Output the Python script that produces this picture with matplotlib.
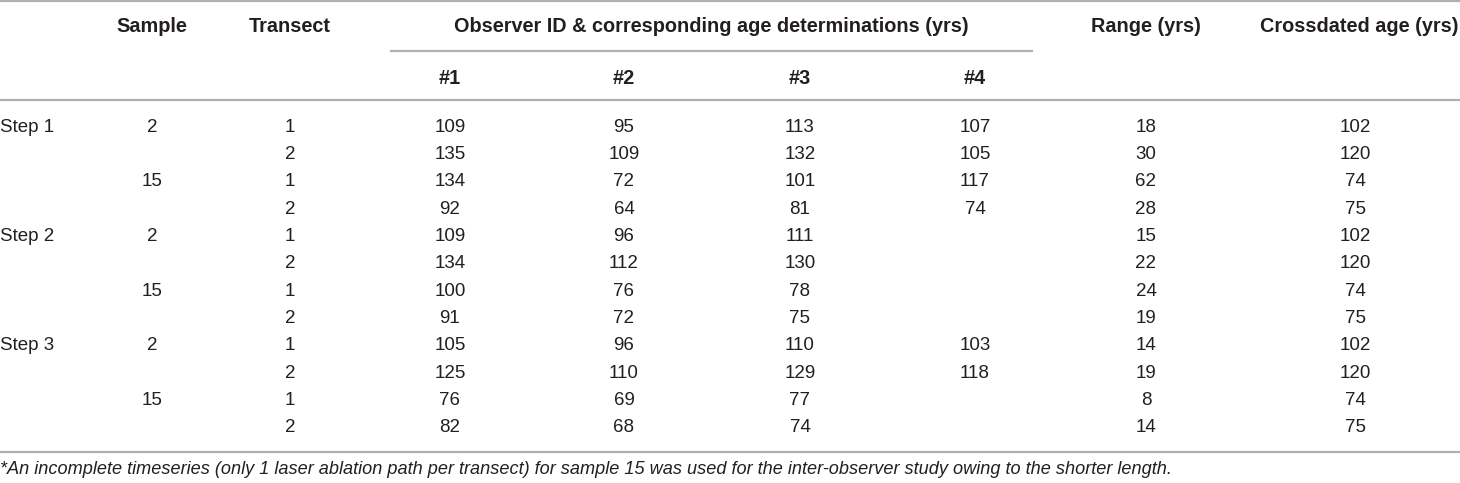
import matplotlib
matplotlib.use('Agg')
import matplotlib.pyplot as plt

plt.rcParams['font.family'] = ['Liberation Sans', 'DejaVu Sans']

steps = ['Step 1', '', '', '', 'Step 2', '', '', '', 'Step 3', '', '', '']
samples = ['2', '', '15', '', '2', '', '15', '', '2', '', '15', '']
transects = ['1', '2', '1', '2', '1', '2', '1', '2', '1', '2', '1', '2']
obs1 = ['109', '135', '134', '92', '109', '134', '100', '91', '105', '125', '76', '82']
obs2 = ['95', '109', '72', '64', '96', '112', '76', '72', '96', '110', '69', '68']
obs3 = ['113', '132', '101', '81', '111', '130', '78', '75', '110', '129', '77', '74']
obs4 = ['107', '105', '117', '74', '', '', '', '', '103', '118', '', '']
ranges = ['18', '30', '62', '28', '15', '22', '24', '19', '14', '19', '8', '14']
crossdated = ['102', '120', '74', '75', '102', '120', '74', '75', '102', '120', '74', '75']

observer_ids = ['#1', '#2', '#3', '#4']
footnote = ('*An incomplete timeseries (only 1 laser ablation path per transect) for sample 15 '
            'was used for the inter-observer study owing to the shorter length.')

W, H = 1460, 483
fig = plt.figure(figsize=(W / 100, H / 100), dpi=100)
ax = fig.add_axes([0, 0, 1, 1])
ax.set_xlim(0, W)
ax.set_ylim(H, 0)
ax.axis('off')

line_col = '#b0b0b0'
txt_col = '#231f20'
fs = 13.5
hfs = 14.3

# rules
ax.plot([0, W], [1, 1], color=line_col, lw=1.6)
ax.plot([391, 1032], [51, 51], color=line_col, lw=1.6)
ax.plot([0, W], [100, 100], color=line_col, lw=1.6)
ax.plot([0, W], [452, 452], color=line_col, lw=1.6)

# header
hdr = dict(fontsize=hfs, fontweight='bold', color=txt_col, ha='center', va='center')
ax.text(152, 26, 'Sample', **hdr)
ax.text(290, 26, 'Transect', **hdr)
ax.text(711, 26, 'Observer ID & corresponding age determinations (yrs)', **hdr)
ax.text(1146, 26, 'Range (yrs)', **hdr)
ax.text(1359, 26, 'Crossdated age (yrs)', **hdr)
obs_x = [450, 624, 800, 975]
for x, lab in zip(obs_x, observer_ids):
    ax.text(x, 78, lab, **hdr)

# body
cols = [(152, samples), (290, transects), (obs_x[0], obs1), (obs_x[1], obs2),
        (obs_x[2], obs3), (obs_x[3], obs4), (1146, ranges), (1355, crossdated)]
y0, dy = 127, (428 - 127) / 11
for i in range(len(transects)):
    y = y0 + i * dy
    ax.text(0, y, steps[i], fontsize=fs, color=txt_col, ha='left', va='center')
    for x, vals in cols:
        ax.text(x, y, vals[i], fontsize=fs, color=txt_col, ha='center', va='center')

ax.text(0, 469, footnote, fontsize=13.1, style='italic', color=txt_col, ha='left', va='center')

fig.savefig('out.png', dpi=100)
